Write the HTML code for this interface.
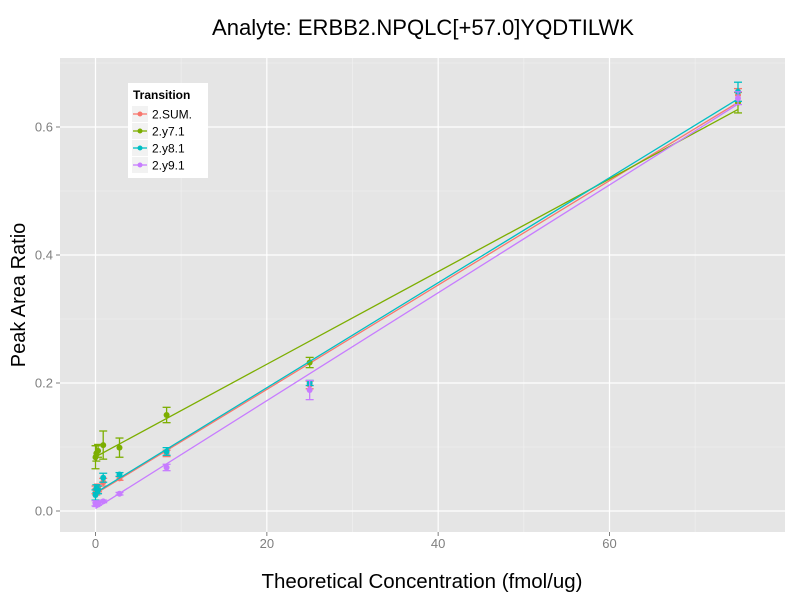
<!DOCTYPE html>
<html><head><meta charset="utf-8"><style>
body{margin:0;background:#fff;font-family:"Liberation Sans",sans-serif}
</style></head><body>
<svg id="c" width="800" height="600" xmlns="http://www.w3.org/2000/svg" font-family="Liberation Sans, sans-serif"></svg>
<script>
const concentrations=[0,0.1,0.3,0.9,2.8,8.3,25,75];
const seriesNames=["2.SUM.","2.y7.1","2.y8.1","2.y9.1"];
const seriesColors=["#F8766D","#7CAE00","#00BFC4","#C77CFF"];
const sumValues=[0.033,0.03,0.036,0.045,0.051,0.09,0.197,0.65];
const y71Values=[0.084,0.09,0.094,0.103,0.099,0.15,0.232,0.638];
const y81Values=[0.025,0.035,0.033,0.052,0.057,0.093,0.2,0.655];
const y91Values=[0.012,0.01,0.012,0.015,0.027,0.068,0.189,0.645];
const sumErr=[0.006,0.005,0.006,0.006,0.003,0.005,0.006,0.01];
const y71Err=[0.018,0.012,0.01,0.022,0.015,0.012,0.008,0.016];
const y81Err=[0.008,0.006,0.006,0.007,0.003,0.006,0.004,0.015];
const y91Err=[0.004,0.003,0.003,0.002,0.002,0.005,0.015,0.01];
const xTicks=[0,20,40,60];
const yTicks=[0,0.2,0.4,0.6];
const allVals=[sumValues,y71Values,y81Values,y91Values];
const allErr=[sumErr,y71Err,y81Err,y91Err];
const NS="http://www.w3.org/2000/svg";
const svg=document.getElementById('c');
const P={l:60,r:785,t:58,b:532};
const X=v=>95.5+v*(609.5-95.5)/60;
const Y=v=>511-v*640;
function el(t,a,p){const e=document.createElementNS(NS,t);for(const k in a)e.setAttribute(k,a[k]);(p||svg).appendChild(e);return e;}
let e=el('rect',{x:P.l,y:P.t,width:P.r-P.l,height:P.b-P.t,fill:'#E5E5E5'});


for(let i=0;i<xTicks.length;i++){
 const m=xTicks[i]+10;
 if(X(m)<P.r) el('line',{x1:X(m),x2:X(m),y1:P.t,y2:P.b,stroke:'#F2F2F2','stroke-width':0.6});
}
for(let i=0;i<yTicks.length;i++){
 const m=yTicks[i]+0.1; if(Y(m)>P.t) el('line',{x1:P.l,x2:P.r,y1:Y(m),y2:Y(m),stroke:'#F2F2F2','stroke-width':0.6});
}
xTicks.forEach(t=>{el('line',{x1:X(t),x2:X(t),y1:P.t,y2:P.b,stroke:'#fff','stroke-width':1.2});
 el('line',{x1:X(t),x2:X(t),y1:P.b,y2:P.b+4,stroke:'#7F7F7F'});
 const tx=el('text',{x:X(t),y:P.b+16,'text-anchor':'middle','font-size':13,fill:'#7F7F7F'});tx.textContent=t;
 
 });
yTicks.forEach(t=>{el('line',{x1:P.l,x2:P.r,y1:Y(t),y2:Y(t),stroke:'#fff','stroke-width':1.2});
 el('line',{x1:P.l-4,x2:P.l,y1:Y(t),y2:Y(t),stroke:'#7F7F7F'});
 const tx=el('text',{x:P.l-7,y:Y(t)+4.5,'text-anchor':'end','font-size':13,fill:'#7F7F7F'});tx.textContent=t.toFixed(1);
 
 });
allVals.forEach((vals,s)=>{
 const c=seriesColors[s],n=vals.length;
 let mx=0,my=0;for(let i=0;i<n;i++){mx+=concentrations[i];my+=vals[i];}mx/=n;my/=n;
 let sxy=0,sxx=0;for(let i=0;i<n;i++){sxy+=(concentrations[i]-mx)*(vals[i]-my);sxx+=(concentrations[i]-mx)**2;}
 const b=sxy/sxx,a=my-b*mx;
 const ln=el('line',{x1:X(0),y1:Y(a),x2:X(75),y2:Y(a+b*75),stroke:c,'stroke-width':1.3});
 
 
 vals.forEach((v,i)=>{
  const x=X(concentrations[i]),er=allErr[s][i];
  const g=el('g',{});
  
  
  el('line',{x1:x,x2:x,y1:Y(v-er),y2:Y(v+er),stroke:c,'stroke-width':1.3},g);
  el('line',{x1:x-4,x2:x+4,y1:Y(v-er),y2:Y(v-er),stroke:c,'stroke-width':1.3},g);
  el('line',{x1:x-4,x2:x+4,y1:Y(v+er),y2:Y(v+er),stroke:c,'stroke-width':1.3},g);
  el('circle',{cx:x,cy:Y(v),r:3,fill:c},g);
 });
});
const lg=el('g',{});


el('rect',{x:128,y:83,width:80,height:95,fill:'#fff'},lg);
let lt=el('text',{x:133,y:99,'font-size':12,'font-weight':'bold'},lg);lt.textContent='Transition';
seriesNames.forEach((nm,i)=>{const y=114+i*17;
 const g=el('g',{},lg);
 
 
 el('rect',{x:132,y:y-8,width:16,height:16,fill:'#F2F2F2'},g);
 el('line',{x1:133,x2:147,y1:y,y2:y,stroke:seriesColors[i],'stroke-width':1.3},g);
 el('circle',{cx:140,cy:y,r:2.5,fill:seriesColors[i]},g);
 const t=el('text',{x:152,y:y+4.5,'font-size':12},g);t.textContent=nm;});
let t=el('text',{x:423,y:35,'text-anchor':'middle','font-size':22,textLength:422,lengthAdjust:'spacingAndGlyphs'});t.textContent='Analyte: ERBB2.NPQLC[+57.0]YQDTILWK';

t=el('text',{x:422,y:588,'text-anchor':'middle','font-size':20,textLength:321,lengthAdjust:'spacingAndGlyphs'});t.textContent='Theoretical Concentration (fmol/ug)';

t=el('text',{x:0,y:0,'text-anchor':'middle','font-size':20,transform:'translate(25,295) rotate(-90)'});t.textContent='Peak Area Ratio';

</script>
</body></html>
